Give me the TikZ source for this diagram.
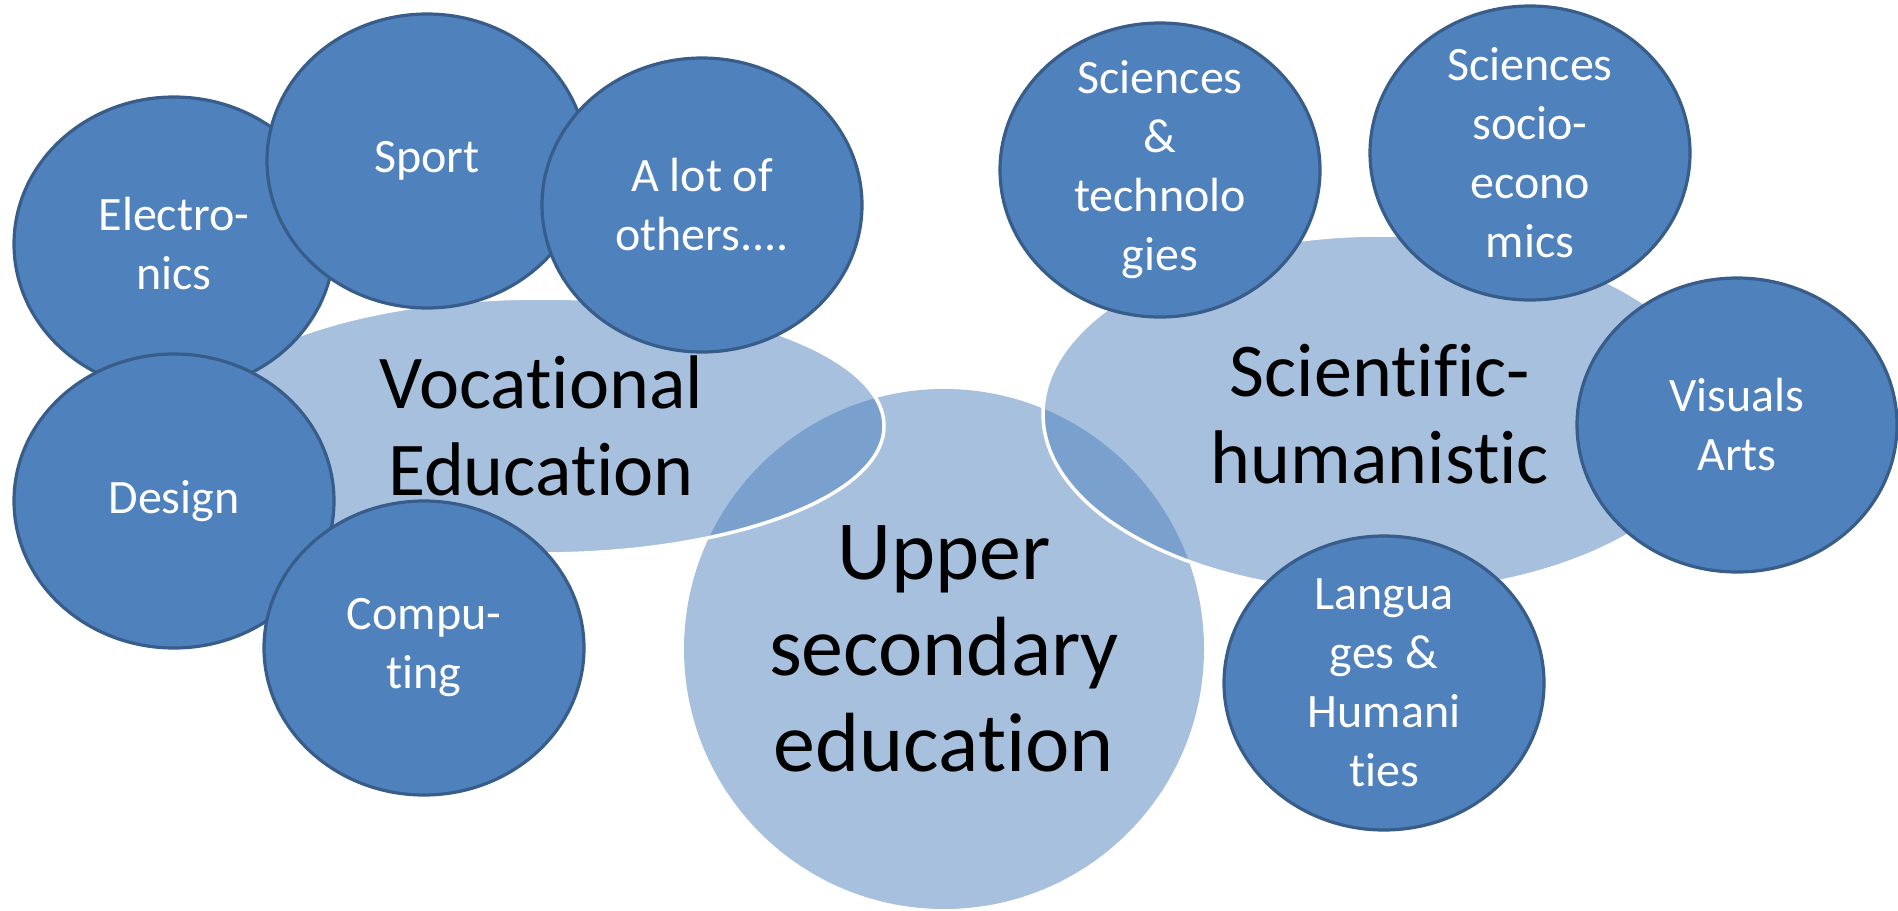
\documentclass[tikz,border=0pt]{standalone}
\usepackage{fontspec}
\setmainfont{Carlito}[Ligatures=NoCommon]
\usepackage{xcolor}
\usepackage{tikz}
\usetikzlibrary{shapes.geometric}

\definecolor{accent}{HTML}{4F81BD}
\definecolor{accentline}{HTML}{385D8A}

\begin{document}
\begin{tikzpicture}[x=0.5pt, y=-0.5pt,
          core/.style = {circle, fill=accent, fill opacity=0.5, text opacity=1,
              minimum size=260pt, inner sep=0pt, align=center,
              font=\fontsize{42}{48}\selectfont
          },
          branch/.style = {ellipse, fill=accent, fill opacity=0.5, text opacity=1,
              draw=white, line width=1.75pt, inner sep=0pt, align=center,
              font=\fontsize{38}{43.5}\selectfont
          },
          subject/.style = {ellipse, fill=accent, draw=accentline, line width=1.6pt,
              minimum width=160pt, minimum height=147pt, inner sep=-20pt,
              text=white, align=center, font=\fontsize{24}{29.5}\selectfont
          }
          ]

          \useasboundingbox (0,0) rectangle (1898,910);

          \node (upper) [core] at (944,649) {Upper\\secondary\\education};

          \node (voc) [branch, minimum width=343pt, minimum height=128pt] at (541,426) {Vocational\\Education};
          \node (sci) [branch, minimum width=337pt, minimum height=179pt] at (1380,414) {Scientific-\\humanistic};

          % Vocational subjects
          \node (elec) [subject] at (174,244) {Electro-\\nics};
          \node (sport) [subject] at (427,161) {Sport};
          \node (others) [subject] at (702,205) {A lot of\\others....};
          \node (design) [subject] at (174,501) {Design};
          \node (comp) [subject] at (424,648) {Compu-\\ting};

          % Scientific subjects
          \node (scitech) [subject] at (1160,170) {Sciences\\\&\\technolo\\gies};
          \node (socio) [subject] at (1530,153) {Sciences\\socio-\\econo\\mics};
          \node (arts) [subject] at (1737,425) {Visuals\\Arts};
          \node (lang) [subject] at (1384,683) {Langua\\ges \&\\Humani\\ties};

        \end{tikzpicture}
\end{document}
